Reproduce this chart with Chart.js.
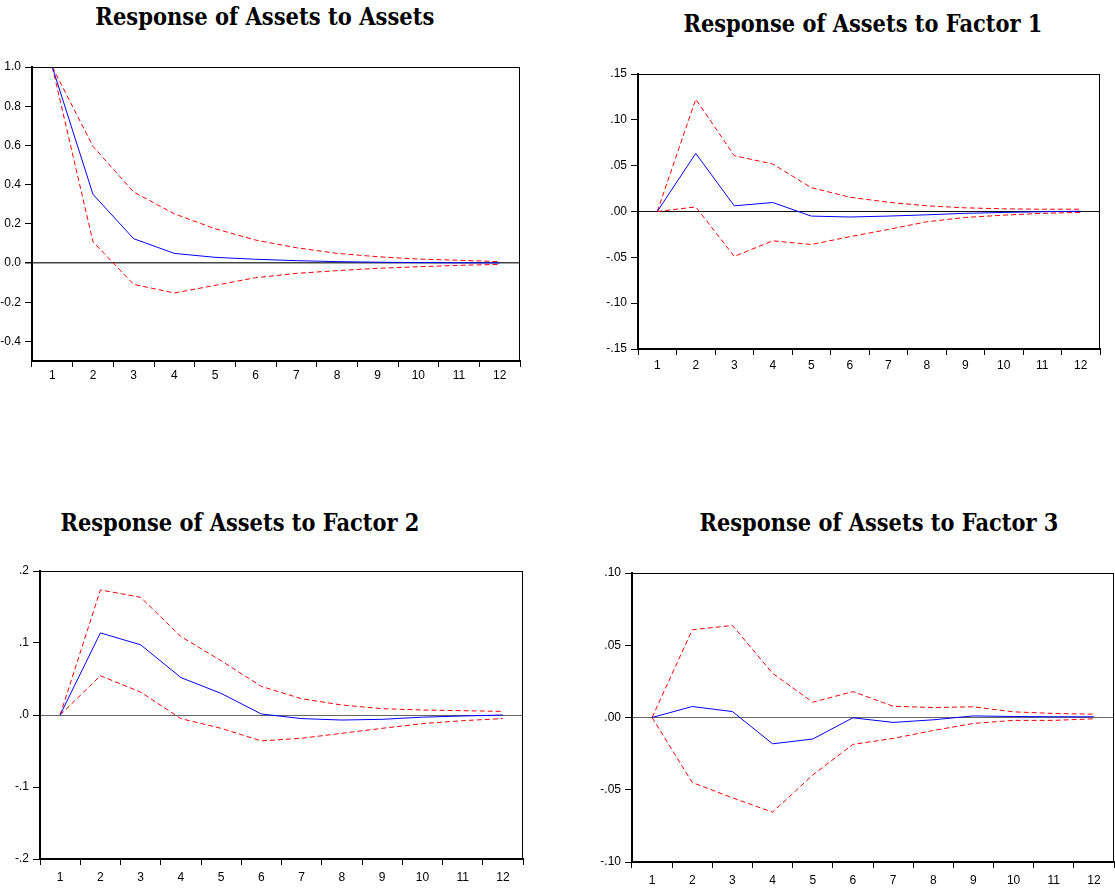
<!DOCTYPE html>
<html>
<head>
<meta charset="utf-8">
<script src="https://cdn.jsdelivr.net/npm/chart.js@4.4.1/dist/chart.umd.min.js"></script>
<style>
  html, body { margin: 0; padding: 0; background: #fff; }
  body { width: 1115px; height: 888px; position: relative; overflow: hidden; }
  canvas { position: absolute; }
  .title { position: absolute; font-family: "DejaVu Serif", serif; font-weight: bold; font-size: 25px;
           line-height: 25px; white-space: nowrap; color: #000; transform-origin: 50% 50%; }
</style>
</head>
<body>
<div class="title" id="t1">Response of Assets to Assets</div>
<div class="title" id="t2">Response of Assets to Factor 1</div>
<div class="title" id="t3">Response of Assets to Factor 2</div>
<div class="title" id="t4">Response of Assets to Factor 3</div>
<canvas id="c1"></canvas>
<canvas id="c2"></canvas>
<canvas id="c3"></canvas>
<canvas id="c4"></canvas>
<script>
// ---------- data ----------
const categories = ['1','2','3','4','5','6','7','8','9','10','11','12'];

// Response of Assets to Assets
const p1Resp  = [1.0, 0.350, 0.124, 0.049, 0.029, 0.019, 0.012, 0.007, 0.004, 0.002, 0.001, 0.0005];
const p1Upper = [1.0, 0.595, 0.362, 0.251, 0.175, 0.117, 0.078, 0.049, 0.032, 0.020, 0.014, 0.007];
const p1Lower = [1.0, 0.108, -0.109, -0.153, -0.114, -0.075, -0.053, -0.039, -0.027, -0.019, -0.012, -0.007];
const p1TickVals = [1.0, 0.8, 0.6, 0.4, 0.2, 0.0, -0.2, -0.4];
const p1TickLabels = ['1.0', '0.8', '0.6', '0.4', '0.2', '0.0', '-0.2', '-0.4'];

// Response of Assets to Factor 1
const p2Resp  = [0, 0.0634, 0.0062, 0.0098, -0.0050, -0.0060, -0.0050, -0.0036, -0.0020, -0.0010, -0.0003, 0.0003];
const p2Upper = [0, 0.1225, 0.0609, 0.0518, 0.0260, 0.0156, 0.0101, 0.0062, 0.0040, 0.0029, 0.0025, 0.0025];
const p2Lower = [0, 0.0050, -0.0490, -0.0320, -0.0360, -0.0275, -0.0196, -0.0112, -0.0065, -0.0040, -0.0020, -0.0010];
const p2TickVals = [0.15, 0.10, 0.05, 0.00, -0.05, -0.10, -0.15];
const p2TickLabels = ['.15', '.10', '.05', '.00', '-.05', '-.10', '-.15'];

// Response of Assets to Factor 2
const p3Resp  = [0, 0.1140, 0.0975, 0.0520, 0.0300, 0.0014, -0.0050, -0.0070, -0.0060, -0.0030, -0.0014, 0.0000];
const p3Upper = [0, 0.1737, 0.1635, 0.1090, 0.0753, 0.0397, 0.0226, 0.0139, 0.0088, 0.0069, 0.0060, 0.0050];
const p3Lower = [0, 0.0545, 0.0319, -0.0050, -0.0185, -0.0360, -0.0323, -0.0254, -0.0185, -0.0120, -0.0079, -0.0050];
const p3TickVals = [0.2, 0.1, 0.0, -0.1, -0.2];
const p3TickLabels = ['.2', '.1', '.0', '-.1', '-.2'];

// Response of Assets to Factor 3
const p4Resp  = [0, 0.0076, 0.0041, -0.0182, -0.0149, -0.0002, -0.0034, -0.0016, 0.0011, 0.0007, 0.0005, 0.0005];
const p4Upper = [0, 0.0607, 0.0637, 0.0306, 0.0106, 0.0179, 0.0078, 0.0069, 0.0074, 0.0039, 0.0028, 0.0023];
const p4Lower = [0, -0.0450, -0.0556, -0.0655, -0.0398, -0.0186, -0.0145, -0.0090, -0.0041, -0.0020, -0.0020, -0.0009];
const p4TickVals = [0.10, 0.05, 0.00, -0.05, -0.10];
const p4TickLabels = ['.10', '.05', '.00', '-.05', '-.10'];

// ---------- layout ----------
const panels = [
  { id: 'c1', left: 0,   top: 55,  w: 530, h: 330, yW: 32, padTop: 12, padRight: 10, xH: 24, xPad: 1,
    resp: p1Resp, upper: p1Upper, lower: p1Lower, min: -0.5, max: 1.0, tv: p1TickVals, tl: p1TickLabels, zero: '#444', zeroW: 1.5 },
  { id: 'c2', left: 580, top: 60,  w: 530, h: 325, yW: 58, padTop: 14, padRight: 10, xH: 36, xPad: 3,
    resp: p2Resp, upper: p2Upper, lower: p2Lower, min: -0.15, max: 0.15, tv: p2TickVals, tl: p2TickLabels, zero: '#111', zeroW: 1 },
  { id: 'c3', left: 0,   top: 555, w: 533, h: 333, yW: 40, padTop: 16, padRight: 10, xH: 29, xPad: 5,
    resp: p3Resp, upper: p3Upper, lower: p3Lower, min: -0.2, max: 0.2, tv: p3TickVals, tl: p3TickLabels, zero: '#666', zeroW: 1 },
  { id: 'c4', left: 580, top: 560, w: 535, h: 328, yW: 52, padTop: 13, padRight: 1, xH: 26, xPad: 5,
    resp: p4Resp, upper: p4Upper, lower: p4Lower, min: -0.10, max: 0.10, tv: p4TickVals, tl: p4TickLabels, zero: '#666', zeroW: 1 }
];

const boxPlugin = {
  id: 'box',
  afterDraw(chart) {
    const a = chart.chartArea, ctx = chart.ctx;
    ctx.save();
    ctx.strokeStyle = '#000';
    ctx.lineWidth = 1;
    ctx.strokeRect(Math.round(a.left) + 0.5, Math.round(a.top) + 0.5,
                   Math.round(a.right - a.left) - 1, Math.round(a.bottom - a.top) - 1);
    ctx.restore();
  }
};

const tickFont = { family: '"Liberation Sans", Arial, sans-serif', size: 12 };

panels.forEach(p => {
  const cv = document.getElementById(p.id);
  cv.width = p.w; cv.height = p.h;
  cv.style.left = p.left + 'px'; cv.style.top = p.top + 'px';
  cv.style.width = p.w + 'px'; cv.style.height = p.h + 'px';
  new Chart(cv.getContext('2d'), {
    type: 'line',
    data: {
      labels: categories,
      datasets: [
        { data: p.resp, borderColor: '#0000ff', borderWidth: 1, pointRadius: 0, tension: 0, fill: false },
        { data: p.upper, borderColor: '#ff0000', borderWidth: 1, borderDash: [5, 3], pointRadius: 0, tension: 0, fill: false },
        { data: p.lower, borderColor: '#ff0000', borderWidth: 1, borderDash: [5, 3], pointRadius: 0, tension: 0, fill: false }
      ]
    },
    options: {
      responsive: false,
      animation: false,
      devicePixelRatio: 1,
      layout: { padding: { top: p.padTop, right: p.padRight, left: 0, bottom: 0 } },
      plugins: { legend: { display: false }, tooltip: { enabled: false }, title: { display: false } },
      scales: {
        x: {
          type: 'category',
          offset: true,
          afterFit: s => { s.height = p.xH; },
          grid: { offset: true, drawOnChartArea: false, tickLength: 6, color: '#000', lineWidth: 1 },
          border: { display: true, color: '#000', width: 2 },
          ticks: { font: tickFont, color: '#000', padding: p.xPad, maxRotation: 0, autoSkip: false }
        },
        y: {
          type: 'linear',
          min: p.min, max: p.max,
          afterFit: s => { s.width = p.yW; },
          afterBuildTicks: s => { s.ticks = p.tv.map(v => ({ value: v })); },
          grid: {
            drawOnChartArea: true,
            tickLength: 7,
            color: ctx => (ctx.tick && Math.abs(ctx.tick.value) < 1e-9) ? p.zero : 'rgba(0,0,0,0)',
            tickColor: '#000',
            lineWidth: ctx => (ctx.tick && Math.abs(ctx.tick.value) < 1e-9) ? p.zeroW : 1
          },
          border: { display: true, color: '#000', width: 2 },
          ticks: { font: tickFont, color: '#000', padding: 4, callback: (v, i) => p.tl[i] }
        }
      }
    },
    plugins: [boxPlugin]
  });
});

// ---------- titles ----------
const titles = [
  { id: 't1', cx: 265,   top: 3.5,   width: 339 },
  { id: 't2', cx: 863,   top: 11,    width: 359 },
  { id: 't3', cx: 239.5, top: 509.5, width: 359 },
  { id: 't4', cx: 879,   top: 509.5, width: 359 }
];
titles.forEach(t => {
  const el = document.getElementById(t.id);
  const w = el.getBoundingClientRect().width;
  el.style.left = (t.cx - w / 2) + 'px';
  el.style.top = t.top + 'px';
  el.style.transform = 'scaleX(' + (t.width / w) + ')';
});
</script>
</body>
</html>
